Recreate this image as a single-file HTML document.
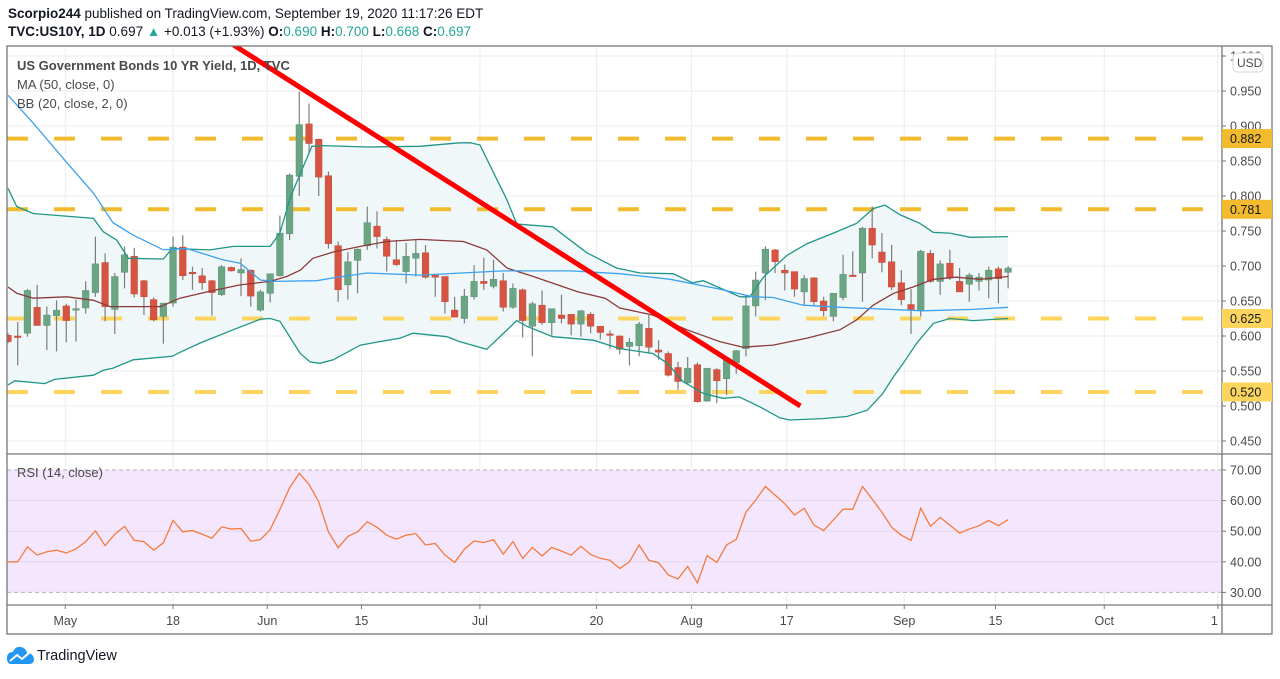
<!DOCTYPE html>
<html><head><meta charset="utf-8"><style>
body{margin:0;background:#fff;width:1280px;height:674px;overflow:hidden;font-family:"Liberation Sans",sans-serif}
svg text{font-family:"Liberation Sans",sans-serif}
</style></head><body>
<svg id="c" width="1280" height="674" viewBox="0 0 1280 674" xmlns="http://www.w3.org/2000/svg">
<text x="8" y="18" font-size="13.5" fill="#131722"><tspan font-weight="bold">Scorpio244</tspan> published on TradingView.com, September 19, 2020 11:17:26 EDT</text>
<text x="8" y="36" font-size="13.5" fill="#131722"><tspan font-weight="bold">TVC:US10Y, 1D</tspan> 0.697 <tspan fill="#26a69a">▲</tspan> +0.013 (+1.93%) <tspan font-weight="bold">O:</tspan><tspan fill="#26a69a">0.690</tspan> <tspan font-weight="bold">H:</tspan><tspan fill="#26a69a">0.700</tspan> <tspan font-weight="bold">L:</tspan><tspan fill="#26a69a">0.668</tspan> <tspan font-weight="bold">C:</tspan><tspan fill="#26a69a">0.697</tspan></text>
<g id="layers"></g>
</svg>
<script>
const opens=[.601,.600,.604,.641,.615,.629,.643,.638,.640,.662,.705,.638,.691,.714,.679,.652,.628,.647,.727,.691,.686,.679,.659,.698,.690,.694,.637,.661,.686,.746,.828,.903,.881,.829,.729,.673,.708,.729,.757,.738,.709,.692,.711,.719,.687,.685,.637,.625,.656,.678,.671,.679,.641,.666,.614,.644,.619,.630,.631,.617,.631,.614,.603,.600,.585,.586,.611,.580,.575,.555,.533,.559,.507,.552,.539,.562,.582,.643,.690,.723,.694,.692,.663,.683,.650,.628,.655,.687,.690,.754,.720,.706,.676,.645,.637,.718,.678,.704,.678,.674,.678,.680,.696,.691];
const closes=[.592,.599,.665,.615,.630,.637,.622,.639,.665,.703,.642,.685,.716,.660,.656,.623,.647,.727,.686,.690,.676,.662,.699,.693,.695,.657,.663,.689,.747,.830,.902,.875,.827,.732,.666,.706,.724,.762,.742,.714,.702,.714,.718,.684,.684,.649,.627,.657,.678,.675,.681,.641,.668,.622,.646,.619,.639,.625,.617,.636,.614,.605,.601,.581,.591,.617,.584,.577,.544,.535,.554,.506,.554,.536,.568,.579,.643,.680,.724,.706,.690,.667,.682,.649,.636,.661,.688,.686,.754,.730,.705,.670,.652,.638,.721,.678,.703,.684,.663,.687,.684,.694,.682,.697];
const highs=[.604,.620,.667,.673,.642,.651,.646,.652,.678,.742,.718,.690,.728,.726,.680,.655,.647,.742,.744,.699,.697,.680,.701,.699,.711,.695,.666,.689,.772,.832,.949,.932,.882,.835,.735,.720,.725,.785,.778,.742,.737,.733,.737,.730,.687,.685,.656,.667,.701,.712,.709,.690,.675,.668,.649,.665,.639,.659,.631,.637,.634,.614,.608,.601,.597,.620,.630,.594,.578,.563,.570,.562,.554,.554,.570,.580,.659,.692,.728,.724,.702,.692,.687,.684,.656,.661,.716,.721,.756,.785,.747,.730,.694,.667,.723,.723,.708,.723,.697,.690,.690,.699,.699,.700];
const lows=[.590,.558,.599,.615,.580,.578,.591,.592,.632,.656,.621,.603,.668,.655,.630,.621,.589,.642,.680,.666,.666,.629,.657,.692,.657,.642,.635,.648,.685,.737,.800,.861,.800,.725,.649,.652,.661,.723,.725,.692,.700,.675,.685,.682,.656,.632,.627,.618,.652,.666,.668,.635,.639,.598,.571,.616,.601,.618,.601,.599,.604,.595,.582,.574,.558,.571,.576,.566,.542,.523,.530,.505,.506,.504,.516,.546,.571,.628,.651,.690,.665,.656,.644,.643,.628,.621,.651,.686,.649,.711,.691,.666,.644,.603,.628,.676,.659,.680,.663,.649,.665,.654,.647,.668];
const rsi=[40.0,40.0,44.9,42.2,43.3,43.8,42.9,44.2,46.6,50.1,45.3,49.0,51.6,47.0,46.6,43.8,46.2,53.5,49.8,50.2,49.0,47.7,51.4,50.7,50.9,46.7,47.3,50.5,57.1,64.2,68.9,65.3,59.6,49.8,44.6,48.3,49.8,53.1,51.3,48.7,47.4,48.7,49.2,45.5,46.0,42.2,39.8,44.1,46.8,46.3,47.2,42.5,46.6,41.1,44.7,41.9,44.7,43.5,42.2,45.1,42.4,41.1,40.5,37.8,40.0,45.5,40.5,39.7,35.7,34.4,38.5,33.1,42.0,39.8,45.5,47.3,56.2,60.2,64.6,61.8,59.0,55.3,57.5,52.0,50.2,53.7,57.2,57.2,64.6,60.5,56.2,51.3,48.7,47.0,57.5,51.6,54.5,52.0,49.4,50.7,51.8,53.5,51.8,53.8];
const upperT=[0,.9,2.6,8.8,9.8,11.2,12.4,16,16.9,20.8,23.2,27,28,29.1,30.1,31.3,32.4,37,42.4,46.5,47.6,48.6,51.4,52.4,56.1,59.6,62.7,65.1,68.5,70.5,71.6,73.6,75.4,76.4,77.8,80.2,82.3,85,87.4,89.1,90.3,91.9,93.9,95.3,97,99.1,103];
const upperV=[.811,.785,.775,.768,.749,.737,.711,.710,.725,.723,.728,.728,.747,.799,.832,.871,.872,.870,.871,.876,.876,.873,.794,.760,.756,.719,.697,.690,.689,.676,.679,.667,.656,.656,.684,.715,.732,.747,.761,.782,.787,.773,.761,.748,.747,.741,.742];
const lowerT=[0,.7,3.8,4.8,8.8,9.8,10.8,12.9,16.9,17.9,19.8,23.2,26,27,28,30.1,31.1,32.1,33.5,36.3,38.3,40.4,41.7,45.2,46.5,49.3,52.4,53.4,56.1,60.3,63,66.4,67.9,69.5,71.6,73.6,75.3,77.4,79.5,80.5,83.9,86.4,88.5,90.1,91.2,92.2,93.6,95.3,97,99.4,103];
const lowerV=[.530,.536,.532,.538,.544,.551,.554,.566,.571,.578,.590,.609,.624,.625,.621,.575,.563,.561,.566,.587,.592,.597,.604,.599,.592,.581,.622,.614,.599,.594,.582,.575,.561,.535,.518,.511,.513,.499,.483,.480,.482,.485,.494,.518,.542,.561,.590,.618,.625,.622,.625];
const basisT=[0,.9,2.6,6.1,8.8,10.5,12.9,15.7,17.7,20.5,23.9,27,28.7,30.1,31.4,33.5,36.3,39,42.4,46.9,49.3,51.4,54.1,58.7,61.5,63,66.4,69.9,73.3,75.7,78.8,82.3,85.7,87.4,89.1,91.2,93.2,95.3,97.7,100.1,103];
const basisV=[.670,.661,.654,.656,.651,.642,.642,.642,.654,.663,.673,.678,.685,.694,.711,.720,.728,.735,.738,.735,.723,.697,.685,.663,.654,.640,.630,.609,.592,.584,.587,.597,.609,.623,.644,.661,.670,.681,.684,.681,.685];
const maT=[0,2.6,6.1,8.8,10.8,12.9,16,18.4,22.1,23.9,26,27.3,31.8,33.5,37,42.4,51,57.9,63,68.2,73.3,76.7,78.8,81.9,85.7,90.8,94.2,99.4,103];
const maV=[.944,.904,.847,.804,.762,.744,.723,.725,.709,.704,.680,.678,.679,.683,.690,.687,.693,.693,.689,.681,.667,.656,.655,.644,.641,.638,.636,.638,.641];
const levels=[0.882,0.781,0.625,0.520];
const priceTicks=[0.450,0.500,0.550,0.600,0.650,0.700,0.750,0.800,0.850,0.900,0.950,1.000];
const rsiTicks=[30,40,50,60,70];
const dateLabels=["May","18","Jun","15","Jul","20","Aug","17","Sep","15","Oct","1"];
const dateIdx=[5.9,17,26.7,36.4,48.6,60.6,70.4,80.2,92.3,101.7,112.9,124.6];
const trend=[[23.2,1.016],[81.6,0.500]];

const NS="http://www.w3.org/2000/svg";
const L=7,R=1222,PT=46,PB=454,RT=455,RB=605;
const xOf=i=>8+i*9.71;
const yP=v=>406-(v-0.5)*700;
const yR=r=>470+(70-r)*3.06;
const root=document.getElementById('layers');
function mk(tag,attrs,parent){const e=document.createElementNS(NS,tag);for(const k in attrs)e.setAttribute(k,attrs[k]);(parent||root).appendChild(e);return e;}
const defs=mk('defs',{});
const cp=mk('clipPath',{id:'cp'},defs);mk('rect',{x:L,y:PT,width:R-L,height:PB-PT},cp);
const cr=mk('clipPath',{id:'cr'},defs);mk('rect',{x:L,y:RT,width:R-L,height:RB-RT},cr);

const grid=mk('g',{});


dateIdx.forEach(d=>{const x=xOf(d);if(x<R-2){const l=mk('line',{x1:x,x2:x,y1:PT,y2:RB,stroke:'#ececec','stroke-width':1},grid);}});
priceTicks.forEach(v=>{const y=yP(v);if(y>PT){const l=mk('line',{x1:L,x2:R,y1:y,y2:y,stroke:'#ececec','stroke-width':1},grid);}});

const rbg=mk('rect',{x:L,y:yR(70),width:R-L,height:yR(30)-yR(70),fill:'#f3e6fd'});


rsiTicks.forEach(r=>{const y=yR(r);const dashed=(r===30||r===70);const l=mk('line',{x1:L,x2:R,y1:y,y2:y,stroke:dashed?'#b8b0bf':'#e3d6ee','stroke-width':1,'stroke-dasharray':dashed?'4 3':'none'});});

const pg=mk('g',{'clip-path':'url(#cp)'});


let pts=upperT.map((t,i)=>xOf(t)+','+yP(upperV[i]));
for(let i=lowerT.length-1;i>=0;i--)pts.push(xOf(lowerT[i])+','+yP(lowerV[i]));
const bf=mk('polygon',{points:pts.join(' '),fill:'#eef6f7',opacity:0.9},pg);


levels.forEach((v,i)=>{const l=mk('line',{x1:L,x2:R,y1:yP(v),y2:yP(v),stroke:i<2?'#f2bb2e':'#fdd55c','stroke-width':4,'stroke-dasharray':'21 26'},pg);});
const cg=mk('g',{},pg);


opens.forEach((o,i)=>{const c=closes[i],x=xOf(i);const up=c>=o;const col=up?'#6ba583':'#d75442';
 const w=mk('line',{x1:x,x2:x,y1:yP(highs[i]),y2:yP(lows[i]),stroke:'#7d7d7d','stroke-width':1.2},cg);
 
 
 const top=yP(Math.max(o,c)),bot=yP(Math.min(o,c));
 const b=mk('rect',{x:x-3.3,y:top,width:6.6,height:Math.max(1.5,bot-top),fill:col,stroke:up?'#5a9273':'#c24a3a','stroke-width':0.5},cg);
 
 
});
function line(T,V,col,name,g,yf){const p=mk('polyline',{points:T.map((t,i)=>xOf(t)+','+yf(V[i])).join(' '),fill:'none',stroke:col,'stroke-width':1.3},g);return p;}
line(upperT,upperV,'#1f9688','bb-upper',pg,yP);
line(lowerT,lowerV,'#1f9688','bb-lower',pg,yP);
line(basisT,basisV,'#8b3a3a','bb-basis',pg,yP);
line(maT,maV,'#3ba2f0','ma-50',pg,yP);
const tl=mk('line',{x1:xOf(trend[0][0]),y1:yP(trend[0][1]),x2:xOf(trend[1][0]),y2:yP(trend[1][1]),stroke:'#ff0000','stroke-width':5},pg);



const rg=mk('g',{'clip-path':'url(#cr)'});


line(rsi.map((_,i)=>i),rsi,'#f57c3c','rsi-line',rg,yR);

function txt(x,y,s,attrs,name,inter){const t=mk('text',Object.assign({x:x,y:y,'font-size':13,fill:'#4a4a4a'},attrs||{}));t.textContent=s;return t;}
txt(17,70,'US Government Bonds 10 YR Yield, 1D, TVC',{'font-weight':'bold'},'series-title');
txt(17,89,'MA (50, close, 0)',{},'ma-legend',true);
txt(17,108,'BB (20, close, 2, 0)',{},'bb-legend',true);
txt(17,477,'RSI (14, close)',{},'rsi-legend',true);

const fr=mk('g',{fill:'none',stroke:'#777','stroke-width':1.3});


mk('rect',{x:L,y:PT,width:1272-L,height:634-PT},fr);
mk('line',{x1:R,x2:R,y1:PT,y2:634},fr);
mk('line',{x1:L,x2:1272,y1:PB,y2:PB},fr);
mk('line',{x1:L,x2:1272,y1:RB,y2:RB},fr);

priceTicks.forEach(v=>{const y=yP(v);if(y<PT+4)return;
 const tk=mk('line',{x1:R,x2:R+4,y1:y,y2:y,stroke:'#777'});
 txt(R+8,y+4.5,v.toFixed(3),{'font-size':12.5},'price-tick-label');});
levels.forEach((v,i)=>{const y=yP(v);const r=mk('rect',{x:R,y:y-9.5,width:50,height:19,fill:i<2?'#f2bb2e':'#fdd55c'});
 txt(R+8,y+4.5,v.toFixed(3),{'font-size':12.5,fill:'#131722'},'level-label');});
const ub=mk('rect',{x:1233,y:53,width:30,height:19,rx:4,fill:'#fff',stroke:'#d6d6d6'});
txt(1237,67,'USD',{'font-size':12},'currency-label',true);
rsiTicks.forEach(r=>{const y=yR(r);const tk=mk('line',{x1:R,x2:R+4,y1:y,y2:y,stroke:'#777'});
 txt(R+8,y+4.5,r.toFixed(2),{'font-size':12.5},'rsi-tick-label');});
dateLabels.forEach((s,i)=>{const x=xOf(dateIdx[i]);if(x<R-2){const tk=mk('line',{x1:x,x2:x,y1:RB,y2:RB+4,stroke:'#777'});}
 txt(x,625,s,{'font-size':12.5,'text-anchor':x>R-8?'end':'middle'},'time-label');});

const lg=mk('g',{transform:'translate(7,646)'});


mk('path',{d:'M0 12 Q0 6 6 6 Q8 0 14 1 Q19 2 20 7 Q26 7 27 13 Q27 18 22 18 L4 18 Q0 18 0 12 Z',fill:'#2196f3'},lg);
mk('polyline',{points:'3,15 10,9 15,13 22,7',fill:'none',stroke:'#fff','stroke-width':2},lg);
txt(37,660,'TradingView',{'font-size':14.5,fill:'#131722'},'tradingview-wordmark',true);
</script>
</body></html>
